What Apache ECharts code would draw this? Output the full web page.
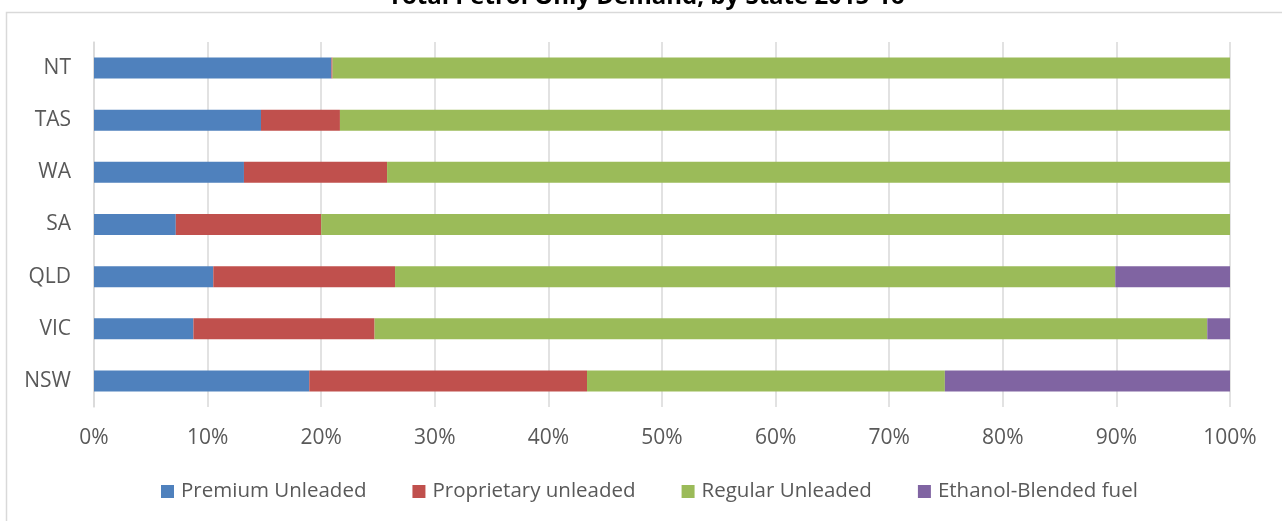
<!DOCTYPE html>
<html>
<head>
<meta charset="utf-8">
<title>Total Petrol Only Demand, by State 2015-16</title>
<script src="https://cdn.jsdelivr.net/npm/echarts@6/dist/echarts.min.js"></script>
<style>
  html, body { margin: 0; padding: 0; background: #fff; }
  #chart { width: 1282px; height: 521px; }
</style>
</head>
<body>
<div id="chart"></div>
<script>
// States, listed bottom to top on the category axis
const states = ['NSW', 'VIC', 'QLD', 'SA', 'WA', 'TAS', 'NT'];

// Share of petrol demand by fuel type (%)
const premiumUnleaded     = [18.95,  8.75, 10.5,  7.2, 13.2, 14.7,  20.9];
const proprietaryUnleaded = [24.45, 15.95, 16.0, 12.8, 12.6,  6.95,  0.1];
const regularUnleaded     = [31.5,  73.3,  63.4, 80.0, 74.2, 78.35, 79.0];
const ethanolBlended      = [25.1,   2.0,  10.1,  0,    0,    0,     0];

const tickLabels = ['0%', '10%', '20%', '30%', '40%', '50%', '60%', '70%', '80%', '90%', '100%'];

const font = 'Open Sans';
const textGrey = '#595959';
const lineGrey = '#d9d9d9';

const chart = echarts.init(document.getElementById('chart'));

function bar(name, data, color) {
  return {
    name: name,
    type: 'bar',
    stack: 'total',
    data: data,
    barWidth: 21,
    itemStyle: { color: color },
    emphasis: { disabled: true }
  };
}

chart.setOption({
  animation: false,
  title: {
    text: 'Total Petrol Only Demand, by State 2015-16',
    left: 388,
    top: -15,
    padding: 0,
    textStyle: { fontFamily: font, fontWeight: 'bold', fontSize: 24, color: '#000' }
  },
  graphic: [{
    type: 'rect',
    shape: { x: 6.5, y: 12.5, width: 1400, height: 700 },
    style: { fill: 'none', stroke: lineGrey, lineWidth: 1.5 },
    silent: true,
    z: -1
  }],
  legend: {
    left: 161,
    top: 481,
    padding: 0,
    itemWidth: 13,
    itemHeight: 13,
    itemGap: 46,
    icon: 'rect',
    textStyle: { fontFamily: font, fontSize: 20.5, color: textGrey, padding: [0, 0, 0, 2] },
    data: ['Premium Unleaded', 'Proprietary unleaded', 'Regular Unleaded', 'Ethanol-Blended fuel']
  },
  grid: { left: 94, right: 52, top: 42, height: 365, containLabel: false },
  xAxis: {
    type: 'value',
    min: 0,
    max: 100,
    interval: 10,
    axisLine: { show: false },
    axisTick: { show: false },
    splitLine: { lineStyle: { color: lineGrey, width: 1.5 } },
    axisLabel: {
      margin: 21,
      fontFamily: font,
      fontSize: 21,
      color: textGrey,
      formatter: function (v) { return tickLabels[Math.round(v / 10)]; }
    }
  },
  yAxis: {
    type: 'category',
    data: states,
    axisLine: { show: true, lineStyle: { color: lineGrey, width: 1.5 } },
    axisTick: { show: false },
    axisLabel: { margin: 23, fontFamily: font, fontSize: 21, color: textGrey }
  },
  series: [
    bar('Premium Unleaded', premiumUnleaded, '#4f81bd'),
    bar('Proprietary unleaded', proprietaryUnleaded, '#c0504d'),
    bar('Regular Unleaded', regularUnleaded, '#9bbb59'),
    bar('Ethanol-Blended fuel', ethanolBlended, '#8064a2')
  ]
});
</script>
</body>
</html>
